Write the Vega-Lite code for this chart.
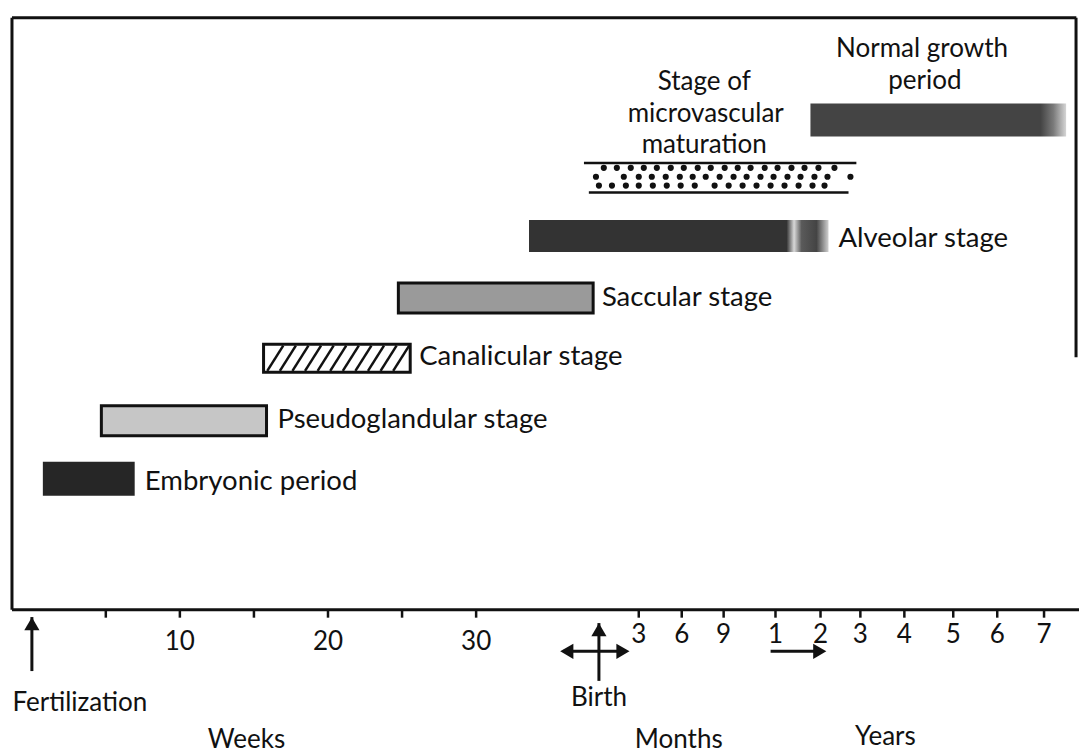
{
  "$schema": "https://vega.github.io/schema/vega-lite/v6.json",
  "width": 1081,
  "height": 756,
  "autosize": {"type": "fit", "contains": "padding"},
  "padding": 0,
  "background": "white",
  "config": {"view": {"stroke": null}, "text": {"font": "Lato", "fontSize": 26, "color": "#111111"}},
  "datasets": {
    "stages": [
      {"stage": "Embryonic period", "start": 0.75, "end": 6.95, "row": 1},
      {"stage": "Pseudoglandular stage", "start": 4.7, "end": 15.85, "row": 1.96},
      {"stage": "Canalicular stage", "start": 15.65, "end": 25.55, "row": 3},
      {"stage": "Saccular stage", "start": 24.75, "end": 37.9, "row": 4},
      {"stage": "Alveolar stage", "start": 33.57, "end": 53.79, "row": 5.03},
      {"stage": "Normal growth period", "start": 52.57, "end": 69.83, "row": 6.96}
    ],
    "frame": [
      {"x": -1.334, "x2": -1.334, "y": 8.656, "y2": -1.18},
      {"x": -1.334, "x2": 70.52, "y": 8.656, "y2": 8.656},
      {"x": 70.5, "x2": 70.5, "y": 8.656, "y2": 3.016},
      {"x": -1.334, "x2": 70.7, "y": -1.18, "y2": -1.18}
    ],
    "ticks": [
      {"x": 5}, {"x": 10}, {"x": 15}, {"x": 20}, {"x": 25}, {"x": 30},
      {"x": 40.98}, {"x": 43.88}, {"x": 46.71},
      {"x": 50.21}, {"x": 53.25}, {"x": 55.94}, {"x": 58.91}, {"x": 62.21}, {"x": 65.18}, {"x": 68.34}
    ],
    "hatch": [
      {"x": 15.9, "x2": 16.98}, {"x": 16.75, "x2": 17.83}, {"x": 17.6, "x2": 18.68},
      {"x": 18.45, "x2": 19.53}, {"x": 19.3, "x2": 20.38}, {"x": 20.15, "x2": 21.23},
      {"x": 21.0, "x2": 22.08}, {"x": 21.85, "x2": 22.93}, {"x": 22.7, "x2": 23.78},
      {"x": 23.55, "x2": 24.63}, {"x": 24.4, "x2": 25.48}
    ],
    "microLines": [
      {"x": 37.28, "x2": 55.67, "y": 6.246, "y2": 6.246},
      {"x": 37.61, "x2": 55.14, "y": 5.754, "y2": 5.754}
    ],
    "dots": [
      {"x": 38.62, "y": 6.164}, {"x": 39.5, "y": 6.164}, {"x": 40.44, "y": 6.164}, {"x": 41.32, "y": 6.164},
      {"x": 42.2, "y": 6.164}, {"x": 43.14, "y": 6.164}, {"x": 44.02, "y": 6.164}, {"x": 44.96, "y": 6.164},
      {"x": 45.84, "y": 6.164}, {"x": 46.78, "y": 6.164}, {"x": 47.66, "y": 6.164}, {"x": 48.53, "y": 6.164},
      {"x": 49.48, "y": 6.164}, {"x": 50.35, "y": 6.164}, {"x": 51.29, "y": 6.164}, {"x": 52.17, "y": 6.164},
      {"x": 53.11, "y": 6.164}, {"x": 54.19, "y": 6.164},
      {"x": 38.09, "y": 6.016}, {"x": 39.97, "y": 6.016}, {"x": 40.98, "y": 6.016}, {"x": 41.86, "y": 6.016},
      {"x": 42.8, "y": 6.016}, {"x": 43.75, "y": 6.016}, {"x": 44.62, "y": 6.016}, {"x": 45.5, "y": 6.016},
      {"x": 46.44, "y": 6.016}, {"x": 47.38, "y": 6.016}, {"x": 48.26, "y": 6.016}, {"x": 49.2, "y": 6.016},
      {"x": 50.08, "y": 6.016}, {"x": 51.02, "y": 6.016}, {"x": 51.9, "y": 6.016}, {"x": 52.84, "y": 6.016},
      {"x": 53.72, "y": 6.016}, {"x": 55.27, "y": 6.016},
      {"x": 38.29, "y": 5.869}, {"x": 39.17, "y": 5.869}, {"x": 40.11, "y": 5.869}, {"x": 40.98, "y": 5.869},
      {"x": 41.93, "y": 5.869}, {"x": 42.87, "y": 5.869}, {"x": 43.81, "y": 5.869}, {"x": 44.76, "y": 5.869},
      {"x": 46.1, "y": 5.869}, {"x": 47.05, "y": 5.869}, {"x": 47.99, "y": 5.869}, {"x": 48.93, "y": 5.869},
      {"x": 49.88, "y": 5.869}, {"x": 50.82, "y": 5.869}, {"x": 51.77, "y": 5.869}, {"x": 52.71, "y": 5.869},
      {"x": 53.52, "y": 5.869}
    ],
    "arrows": [
      {"x": 0.01, "x2": 0.01, "y": -1.3, "y2": -2.197},
      {"x": 38.29, "x2": 38.29, "y": -1.4, "y2": -2.36},
      {"x": 35.9, "x2": 40.1, "y": -1.869, "y2": -1.869},
      {"x": 49.88, "x2": 53.3, "y": -1.869, "y2": -1.869}
    ],
    "heads": [
      {"x": 0.01, "y": -1.41, "dir": "up"},
      {"x": 38.29, "y": -1.51, "dir": "up"},
      {"x": 36.12, "y": -1.869, "dir": "left"},
      {"x": 39.91, "y": -1.869, "dir": "right"},
      {"x": 53.2, "y": -1.869, "dir": "right"}
    ],
    "stageLabels": [
      {"label": "Embryonic period", "x": 7.63, "y": 0.951},
      {"label": "Pseudoglandular stage", "x": 16.59, "y": 1.967},
      {"label": "Canalicular stage", "x": 26.16, "y": 3.016},
      {"label": "Saccular stage", "x": 38.49, "y": 4.0},
      {"label": "Alveolar stage", "x": 54.46, "y": 4.984}
    ],
    "centerLabels": [
      {"label": "Normal growth", "x": 60.1, "y": 8.131},
      {"label": "period", "x": 60.3, "y": 7.607},
      {"label": "Stage of", "x": 45.4, "y": 7.59},
      {"label": "microvascular", "x": 45.5, "y": 7.066},
      {"label": "maturation", "x": 45.4, "y": 6.541},
      {"label": "Fertilization", "x": 3.25, "y": -2.721},
      {"label": "Birth", "x": 38.29, "y": -2.639},
      {"label": "Weeks", "x": 14.5, "y": -3.344},
      {"label": "Months", "x": 43.68, "y": -3.344},
      {"label": "Years", "x": 57.63, "y": -3.295}
    ],
    "tickLabels": [
      {"label": "10", "x": 10, "y": -1.72},
      {"label": "20", "x": 20, "y": -1.72},
      {"label": "30", "x": 30, "y": -1.72},
      {"label": "3", "x": 40.98, "y": -1.6},
      {"label": "6", "x": 43.88, "y": -1.6},
      {"label": "9", "x": 46.71, "y": -1.6},
      {"label": "1", "x": 50.21, "y": -1.6},
      {"label": "2", "x": 53.25, "y": -1.6},
      {"label": "3", "x": 55.94, "y": -1.6},
      {"label": "4", "x": 58.91, "y": -1.6},
      {"label": "5", "x": 62.21, "y": -1.6},
      {"label": "6", "x": 65.18, "y": -1.6},
      {"label": "7", "x": 68.34, "y": -1.6}
    ]
  },
  "layer": [
    {
      "data": {"name": "frame"},
      "mark": {"type": "rule", "color": "#111111", "strokeWidth": 3},
      "encoding": {
        "x": {"field": "x", "type": "quantitative", "scale": {"domain": [-2.143, 70.7], "nice": false, "zero": false}, "axis": null},
        "x2": {"field": "x2"},
        "y": {"field": "y", "type": "quantitative", "scale": {"domain": [-3.525, 8.869], "nice": false, "zero": false}, "axis": null},
        "y2": {"field": "y2"}
      }
    },
    {
      "data": {"name": "ticks"},
      "mark": {"type": "rule", "color": "#111111", "strokeWidth": 2.5},
      "encoding": {
        "x": {"field": "x", "type": "quantitative", "scale": {"domain": [-2.143, 70.7], "nice": false, "zero": false}, "axis": null},
        "y": {"datum": -1.18, "type": "quantitative", "scale": {"domain": [-3.525, 8.869], "nice": false, "zero": false}, "axis": null},
        "y2": {"datum": -1.31}
      }
    },
    {
      "data": {"name": "stages"},
      "transform": [{"filter": "datum.stage === 'Embryonic period'"}],
      "mark": {"type": "bar", "orient": "horizontal", "size": 34, "fill": "#262626"},
      "encoding": {
        "x": {"field": "start", "type": "quantitative", "scale": {"domain": [-2.143, 70.7], "nice": false, "zero": false}, "axis": null},
        "x2": {"field": "end"},
        "y": {"field": "row", "type": "quantitative", "scale": {"domain": [-3.525, 8.869], "nice": false, "zero": false}, "axis": null}
      }
    },
    {
      "data": {"name": "stages"},
      "transform": [{"filter": "datum.stage === 'Pseudoglandular stage'"}],
      "mark": {"type": "bar", "orient": "horizontal", "size": 30, "fill": "#c6c6c6", "stroke": "#111111", "strokeWidth": 3},
      "encoding": {
        "x": {"field": "start", "type": "quantitative", "scale": {"domain": [-2.143, 70.7], "nice": false, "zero": false}, "axis": null},
        "x2": {"field": "end"},
        "y": {"field": "row", "type": "quantitative", "scale": {"domain": [-3.525, 8.869], "nice": false, "zero": false}, "axis": null}
      }
    },
    {
      "data": {"name": "stages"},
      "transform": [{"filter": "datum.stage === 'Canalicular stage'"}],
      "mark": {"type": "bar", "orient": "horizontal", "size": 28, "fill": "white", "stroke": "#111111", "strokeWidth": 3},
      "encoding": {
        "x": {"field": "start", "type": "quantitative", "scale": {"domain": [-2.143, 70.7], "nice": false, "zero": false}, "axis": null},
        "x2": {"field": "end"},
        "y": {"field": "row", "type": "quantitative", "scale": {"domain": [-3.525, 8.869], "nice": false, "zero": false}, "axis": null}
      }
    },
    {
      "data": {"name": "hatch"},
      "mark": {"type": "rule", "color": "#111111", "strokeWidth": 2.5},
      "encoding": {
        "x": {"field": "x", "type": "quantitative", "scale": {"domain": [-2.143, 70.7], "nice": false, "zero": false}, "axis": null},
        "x2": {"field": "x2"},
        "y": {"datum": 2.79, "type": "quantitative", "scale": {"domain": [-3.525, 8.869], "nice": false, "zero": false}, "axis": null},
        "y2": {"datum": 3.21}
      }
    },
    {
      "data": {"name": "stages"},
      "transform": [{"filter": "datum.stage === 'Saccular stage'"}],
      "mark": {"type": "bar", "orient": "horizontal", "size": 30, "fill": "#9a9a9a", "stroke": "#111111", "strokeWidth": 3},
      "encoding": {
        "x": {"field": "start", "type": "quantitative", "scale": {"domain": [-2.143, 70.7], "nice": false, "zero": false}, "axis": null},
        "x2": {"field": "end"},
        "y": {"field": "row", "type": "quantitative", "scale": {"domain": [-3.525, 8.869], "nice": false, "zero": false}, "axis": null}
      }
    },
    {
      "data": {"name": "stages"},
      "transform": [{"filter": "datum.stage === 'Alveolar stage'"}],
      "mark": {
        "type": "bar", "orient": "horizontal", "size": 32,
        "fill": {"gradient": "linear", "x1": 0, "y1": 0, "x2": 1, "y2": 0,
          "stops": [
            {"offset": 0, "color": "#333333"},
            {"offset": 0.86, "color": "#333333"},
            {"offset": 0.885, "color": "#d8d8d8"},
            {"offset": 0.91, "color": "#5a5a5a"},
            {"offset": 0.96, "color": "#444444"},
            {"offset": 1, "color": "#d0d0d0"}
          ]}
      },
      "encoding": {
        "x": {"field": "start", "type": "quantitative", "scale": {"domain": [-2.143, 70.7], "nice": false, "zero": false}, "axis": null},
        "x2": {"field": "end"},
        "y": {"field": "row", "type": "quantitative", "scale": {"domain": [-3.525, 8.869], "nice": false, "zero": false}, "axis": null}
      }
    },
    {
      "data": {"name": "stages"},
      "transform": [{"filter": "datum.stage === 'Normal growth period'"}],
      "mark": {
        "type": "bar", "orient": "horizontal", "size": 33,
        "fill": {"gradient": "linear", "x1": 0, "y1": 0, "x2": 1, "y2": 0,
          "stops": [
            {"offset": 0, "color": "#444444"},
            {"offset": 0.9, "color": "#444444"},
            {"offset": 0.95, "color": "#7a7a7a"},
            {"offset": 1, "color": "#d5d5d5"}
          ]}
      },
      "encoding": {
        "x": {"field": "start", "type": "quantitative", "scale": {"domain": [-2.143, 70.7], "nice": false, "zero": false}, "axis": null},
        "x2": {"field": "end"},
        "y": {"field": "row", "type": "quantitative", "scale": {"domain": [-3.525, 8.869], "nice": false, "zero": false}, "axis": null}
      }
    },
    {
      "data": {"name": "microLines"},
      "mark": {"type": "rule", "color": "#111111", "strokeWidth": 2.5},
      "encoding": {
        "x": {"field": "x", "type": "quantitative", "scale": {"domain": [-2.143, 70.7], "nice": false, "zero": false}, "axis": null},
        "x2": {"field": "x2"},
        "y": {"field": "y", "type": "quantitative", "scale": {"domain": [-3.525, 8.869], "nice": false, "zero": false}, "axis": null},
        "y2": {"field": "y2"}
      }
    },
    {
      "data": {"name": "dots"},
      "mark": {"type": "point", "filled": true, "color": "#111111", "opacity": 1, "size": 38},
      "encoding": {
        "x": {"field": "x", "type": "quantitative", "scale": {"domain": [-2.143, 70.7], "nice": false, "zero": false}, "axis": null},
        "y": {"field": "y", "type": "quantitative", "scale": {"domain": [-3.525, 8.869], "nice": false, "zero": false}, "axis": null}
      }
    },
    {
      "data": {"name": "arrows"},
      "mark": {"type": "rule", "color": "#111111", "strokeWidth": 3},
      "encoding": {
        "x": {"field": "x", "type": "quantitative", "scale": {"domain": [-2.143, 70.7], "nice": false, "zero": false}, "axis": null},
        "x2": {"field": "x2"},
        "y": {"field": "y", "type": "quantitative", "scale": {"domain": [-3.525, 8.869], "nice": false, "zero": false}, "axis": null},
        "y2": {"field": "y2"}
      }
    },
    {
      "data": {"name": "heads"},
      "mark": {"type": "point", "filled": true, "color": "#111111", "opacity": 1, "size": 230},
      "encoding": {
        "x": {"field": "x", "type": "quantitative", "scale": {"domain": [-2.143, 70.7], "nice": false, "zero": false}, "axis": null},
        "y": {"field": "y", "type": "quantitative", "scale": {"domain": [-3.525, 8.869], "nice": false, "zero": false}, "axis": null},
        "shape": {"field": "dir", "type": "nominal", "scale": {"domain": ["up", "left", "right"], "range": ["triangle-up", "triangle-left", "triangle-right"]}, "legend": null}
      }
    },
    {
      "data": {"name": "stageLabels"},
      "mark": {"type": "text", "align": "left", "baseline": "middle", "fontSize": 27.5},
      "encoding": {
        "x": {"field": "x", "type": "quantitative", "scale": {"domain": [-2.143, 70.7], "nice": false, "zero": false}, "axis": null},
        "y": {"field": "y", "type": "quantitative", "scale": {"domain": [-3.525, 8.869], "nice": false, "zero": false}, "axis": null},
        "text": {"field": "label", "type": "nominal"}
      }
    },
    {
      "data": {"name": "centerLabels"},
      "mark": {"type": "text", "align": "center", "baseline": "middle", "fontSize": 26},
      "encoding": {
        "x": {"field": "x", "type": "quantitative", "scale": {"domain": [-2.143, 70.7], "nice": false, "zero": false}, "axis": null},
        "y": {"field": "y", "type": "quantitative", "scale": {"domain": [-3.525, 8.869], "nice": false, "zero": false}, "axis": null},
        "text": {"field": "label", "type": "nominal"}
      }
    },
    {
      "data": {"name": "tickLabels"},
      "mark": {"type": "text", "align": "center", "baseline": "middle", "fontSize": 26},
      "encoding": {
        "x": {"field": "x", "type": "quantitative", "scale": {"domain": [-2.143, 70.7], "nice": false, "zero": false}, "axis": null},
        "y": {"field": "y", "type": "quantitative", "scale": {"domain": [-3.525, 8.869], "nice": false, "zero": false}, "axis": null},
        "text": {"field": "label", "type": "nominal"}
      }
    }
  ]
}
